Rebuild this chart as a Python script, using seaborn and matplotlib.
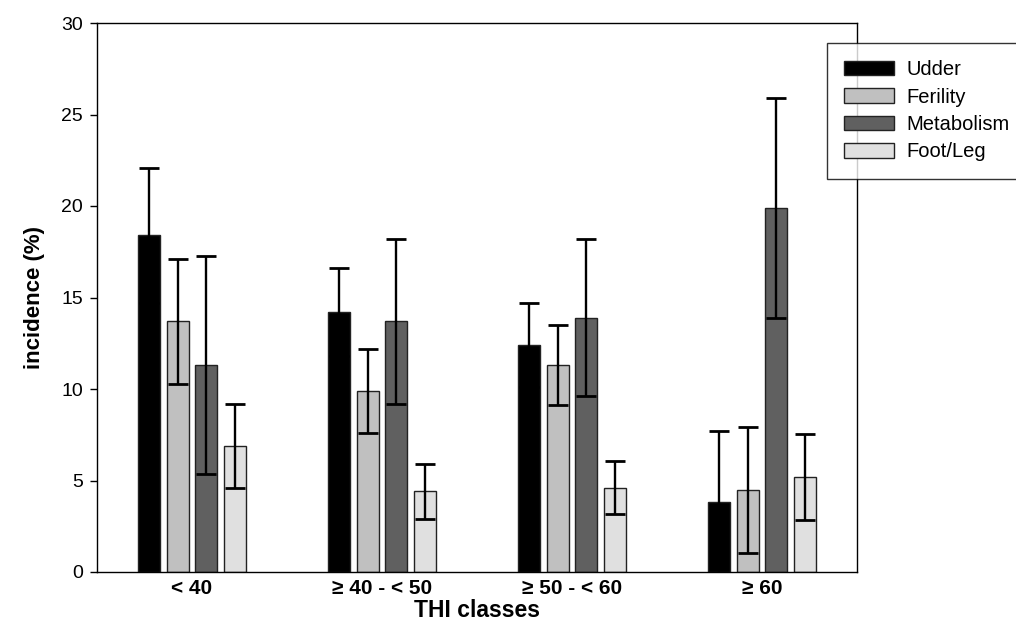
import numpy as np
import pandas as pd
import matplotlib
matplotlib.use("Agg")
import matplotlib.pyplot as plt
import seaborn as sns

# ---- data ----
classes = ["< 40", "≥ 40 - < 50", "≥ 50 - < 60", "≥ 60"]
groups = ["Udder", "Ferility", "Metabolism", "Foot/Leg"]
udder = [18.4, 14.2, 12.4, 3.8]
ferility = [13.7, 9.9, 11.3, 4.5]
metabolism = [11.3, 13.7, 13.9, 19.9]
footleg = [6.9, 4.4, 4.6, 5.2]
udder_err = [3.7, 2.4, 2.3, 3.9]
ferility_err = [3.4, 2.3, 2.2, 3.45]
metabolism_err = [5.95, 4.5, 4.3, 6.0]
footleg_err = [2.3, 1.5, 1.45, 2.35]
colors = ["#000000", "#c0c0c0", "#606060", "#e0e0e0"]

values = [udder, ferility, metabolism, footleg]
errors = [udder_err, ferility_err, metabolism_err, footleg_err]

df = pd.DataFrame({
    "THI": np.tile(classes, len(groups)),
    "group": np.repeat(groups, len(classes)),
    "value": np.concatenate(values),
    "err": np.concatenate(errors),
})

sns.set_theme(style="white")
plt.rcParams["font.family"] = ["Liberation Sans", "DejaVu Sans"]
plt.rcParams["text.color"] = "black"
plt.rcParams["axes.labelcolor"] = "black"
plt.rcParams["xtick.color"] = "black"
plt.rcParams["ytick.color"] = "black"

fig = plt.figure(figsize=(10.16, 6.35), dpi=100)
ax = fig.add_axes([97/1016, 1-572/635, (857-97)/1016, (572-23)/635])

sns.barplot(data=df, x="THI", y="value", hue="group", order=classes,
            hue_order=groups, palette=colors, width=0.6, gap=0.24,
            edgecolor="#222222", linewidth=1.0, errorbar=None,
            saturation=1, ax=ax, legend=True)

# error bars at bar centres
for gi, g in enumerate(groups):
    cont = ax.containers[gi]
    xs = [p.get_x() + p.get_width() / 2 for p in cont.patches]
    ax.errorbar(xs, values[gi], yerr=errors[gi], fmt="none", ecolor="black",
                elinewidth=1.7, capsize=7, capthick=2.0, zorder=5)

ax.set_xlim(-0.5, 3.5)
ax.set_ylim(0, 30)
ax.set_yticks([0, 5, 10, 15, 20, 25, 30])
ax.tick_params(axis="y", direction="out", length=5, width=1, color="black",
               labelsize=14, pad=5, left=True, labelcolor="black")
ax.tick_params(axis="x", length=0, labelsize=15, pad=5, labelcolor="black")
for lab in ax.get_xticklabels():
    lab.set_fontweight("bold")
for s in ax.spines.values():
    s.set_color("black")
    s.set_linewidth(1.0)
    s.set_visible(True)

ax.set_xlabel("THI classes", fontsize=16.5, fontweight="bold", labelpad=1,
              color="black")
ax.set_ylabel("incidence (%)", fontsize=16, fontweight="bold", labelpad=12,
              color="black")

leg = ax.legend(loc="upper left", bbox_to_anchor=(827/1016, 1-43/635),
                bbox_transform=fig.transFigure, frameon=True, fancybox=False,
                edgecolor="black", fontsize=14.5, handlelength=2.5,
                handleheight=0.75, labelspacing=0.42, handletextpad=0.6,
                borderpad=0.85, borderaxespad=0, title=None)
leg.get_frame().set_linewidth(1.0)
for t in leg.get_texts():
    t.set_color("black")
for h in leg.legend_handles:
    h.set_edgecolor("#222222")

fig.savefig("out.png", dpi=100)
